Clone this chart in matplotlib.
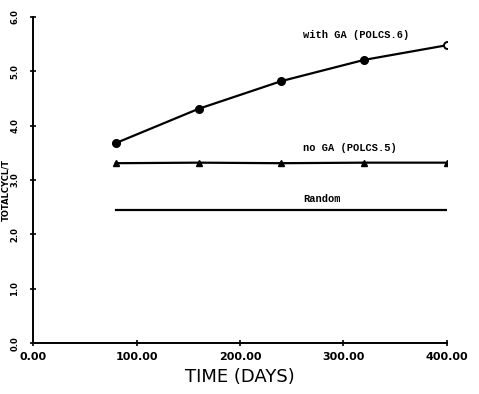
import matplotlib.pyplot as plt

days = [80, 160, 240, 320, 400]
with_ga = [3.68, 4.31, 4.82, 5.21, 5.48]
no_ga = [3.31, 3.32, 3.31, 3.32, 3.32]
random_days = [80, 400]
random_level = [2.45, 2.45]

xticks = [0, 100, 200, 300, 400]
xticklabels = ['0.00', '100.00', '200.00', '300.00', '400.00']
yticks = [0, 1, 2, 3, 4, 5, 6]
yticklabels = ['0.0', '1.0', '2.0', '3.0', '4.0', '5.0', '6.0']

fig = plt.figure(figsize=(4.79, 3.94), dpi=100)
ax = fig.add_axes([0.069, 0.129, 0.864, 0.828])

ax.plot(days[:-1], with_ga[:-1], color='black', lw=1.6, marker='o', ms=5.5)
ax.plot(days[-2:], with_ga[-2:], color='black', lw=1.6)
ax.plot(days[-1], with_ga[-1], 'o', mfc='white', mec='black', ms=5, mew=1.4)
ax.plot(days, no_ga, color='black', lw=1.6, marker='^', ms=4.5)
ax.plot(random_days, random_level, color='black', lw=1.6)

mono = dict(family='Liberation Mono', fontweight='bold', fontsize=7.5)
ax.text(261, 5.67, 'with GA (POLCS.6)', va='center', ha='left', **mono)
ax.text(261, 3.59, 'no GA (POLCS.5)', va='center', ha='left', **mono)
ax.text(261, 2.65, 'Random', va='center', ha='left', **mono)

ax.set_xlim(0, 400)
ax.set_ylim(0, 6)
ax.set_xticks(xticks)
ax.set_xticklabels(xticklabels, fontsize=8, fontweight='bold')
ax.set_yticks(yticks)
ax.set_yticklabels(yticklabels, fontsize=6, fontweight='bold', rotation=90, va='center')
ax.tick_params(direction='inout', length=4, width=1.2)
ax.tick_params(axis='x', pad=4)
ax.tick_params(axis='y', pad=8)
for s in ['top', 'right']:
    ax.spines[s].set_visible(False)
for s in ['left', 'bottom']:
    ax.spines[s].set_linewidth(1.4)

ax.set_xlabel('TIME (DAYS)', fontsize=13, labelpad=5)
ax.set_ylabel('TOTALCYCL/T', fontsize=6, fontweight='bold')
ax.yaxis.set_label_coords(-0.055, 0.47)

fig.savefig('out.png', dpi=100)
